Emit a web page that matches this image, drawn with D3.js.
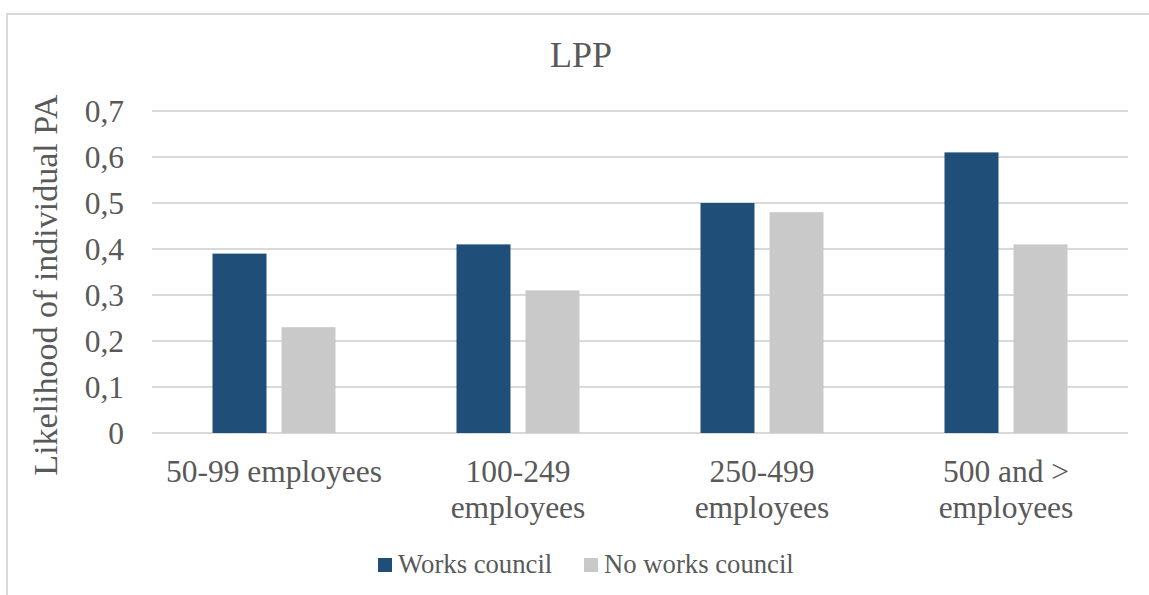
<!DOCTYPE html>
<meta charset="utf-8">
<style>
body { margin: 0; background: #fff; }
.grid line { stroke: #d9d9d9; stroke-width: 2px; }
</style>
<svg width="1149" height="595"></svg>
<script src="https://cdnjs.cloudflare.com/ajax/libs/d3/7.8.5/d3.min.js"></script>
<script>

// data
let categories = ["50-99 employees", "100-249\nemployees", "250-499\nemployees", "500 and >\nemployees"];
let seriesNames = ["Works council", "No works council"];
let worksCouncil = [0.39, 0.41, 0.50, 0.61];
let noWorksCouncil = [0.23, 0.31, 0.48, 0.41];
let yTicks = [0, 0.1, 0.2, 0.3, 0.4, 0.5, 0.6, 0.7];

let font = "'Liberation Serif', 'Times New Roman', serif",
    textColor = "#595959";

let svg = d3.select("svg"),
    margin = {top: 111, right: 21, bottom: 162, left: 152},
    width = svg.attr("width") - margin.left - margin.right,
    height = svg.attr("height") - margin.top - margin.bottom;

let colors = ["#1f4e79", "#c9c9c9"];

// outer chart border (runs off the right & bottom edge like the screenshot)
svg.append("rect")
    .attr("x", 7).attr("y", 14)
    .attr("width", 1160).attr("height", 600)
    .attr("fill", "none")
    .attr("stroke", "#d9d9d9")
    .attr("stroke-width", 2);

let g = svg.append("g").attr("transform", "translate(" + margin.left + "," + margin.top + ")");

let x = d3.scaleBand().domain(categories).range([0, width]);
let y = d3.scaleLinear().domain([0, 0.7]).range([height, 0]);

// gridlines
g.append("g").attr("class", "grid")
    .selectAll("line")
    .data(yTicks)
    .enter().append("line")
    .attr("x1", 0).attr("x2", width)
    .attr("y1", d => y(d)).attr("y2", d => y(d));

// y tick labels
g.append("g")
    .call(d3.axisLeft(y).tickValues(yTicks).tickSize(0).tickPadding(28)
        .tickFormat(d => d === 0 ? "0" : d3.format(".1f")(d).replace(".", ",")))
    .call(a => a.select(".domain").remove())
    .selectAll("text")
    .style("font-family", font)
    .style("font-size", "31.5px")
    .attr("fill", textColor);

// bars: two bars per group, 54px wide with a 15px gap (of a 244px band)
let barW = x.bandwidth() * 54 / 244,
    gap = x.bandwidth() * 15 / 244;
let series = [worksCouncil, noWorksCouncil];

series.forEach(function(vals, si) {
    g.append("g").selectAll("rect")
        .data(vals)
        .enter().append("rect")
        .attr("x", (d, i) => x(categories[i]) + x.bandwidth() / 2 - barW - gap / 2 + si * (barW + gap))
        .attr("width", barW)
        .attr("y", d => y(d))
        .attr("height", d => height - y(d))
        .attr("fill", colors[si]);
});

// category labels
let xAxis = g.append("g")
    .attr("transform", "translate(0," + height + ")")
    .call(d3.axisBottom(x).tickSize(0).tickFormat(""));
xAxis.select(".domain").remove();
xAxis.selectAll(".tick").each(function(d) {
    let t = d3.select(this).append("text")
        .attr("text-anchor", "middle")
        .style("font-family", font)
        .style("font-size", "31.5px")
        .attr("fill", textColor);
    d.split("\n").forEach(function(line, i) {
        t.append("tspan").attr("x", 0).attr("y", 49 + i * 36).text(line);
    });
});

// title
svg.append("text")
    .attr("x", 581).attr("y", 67)
    .attr("text-anchor", "middle")
    .style("font-family", font)
    .style("font-size", "36px")
    .attr("fill", textColor)
    .text("LPP");

// y axis label
svg.append("text")
    .attr("transform", "translate(57,285) rotate(-90)")
    .attr("text-anchor", "middle")
    .style("font-family", font)
    .style("font-size", "34px")
    .attr("fill", textColor)
    .text("Likelihood of individual PA");

// legend
let legendX = [378, 584];
let legend = svg.selectAll(".legend")
    .data(seriesNames)
    .enter().append("g")
    .attr("class", "legend")
    .attr("transform", (d, i) => "translate(" + legendX[i] + ",558)");
legend.append("rect")
    .attr("width", 14).attr("height", 14)
    .attr("fill", (d, i) => colors[i]);
legend.append("text")
    .attr("x", 20).attr("y", 15)
    .style("font-family", font)
    .style("font-size", "26.7px")
    .attr("fill", textColor)
    .text(d => d);

</script>
